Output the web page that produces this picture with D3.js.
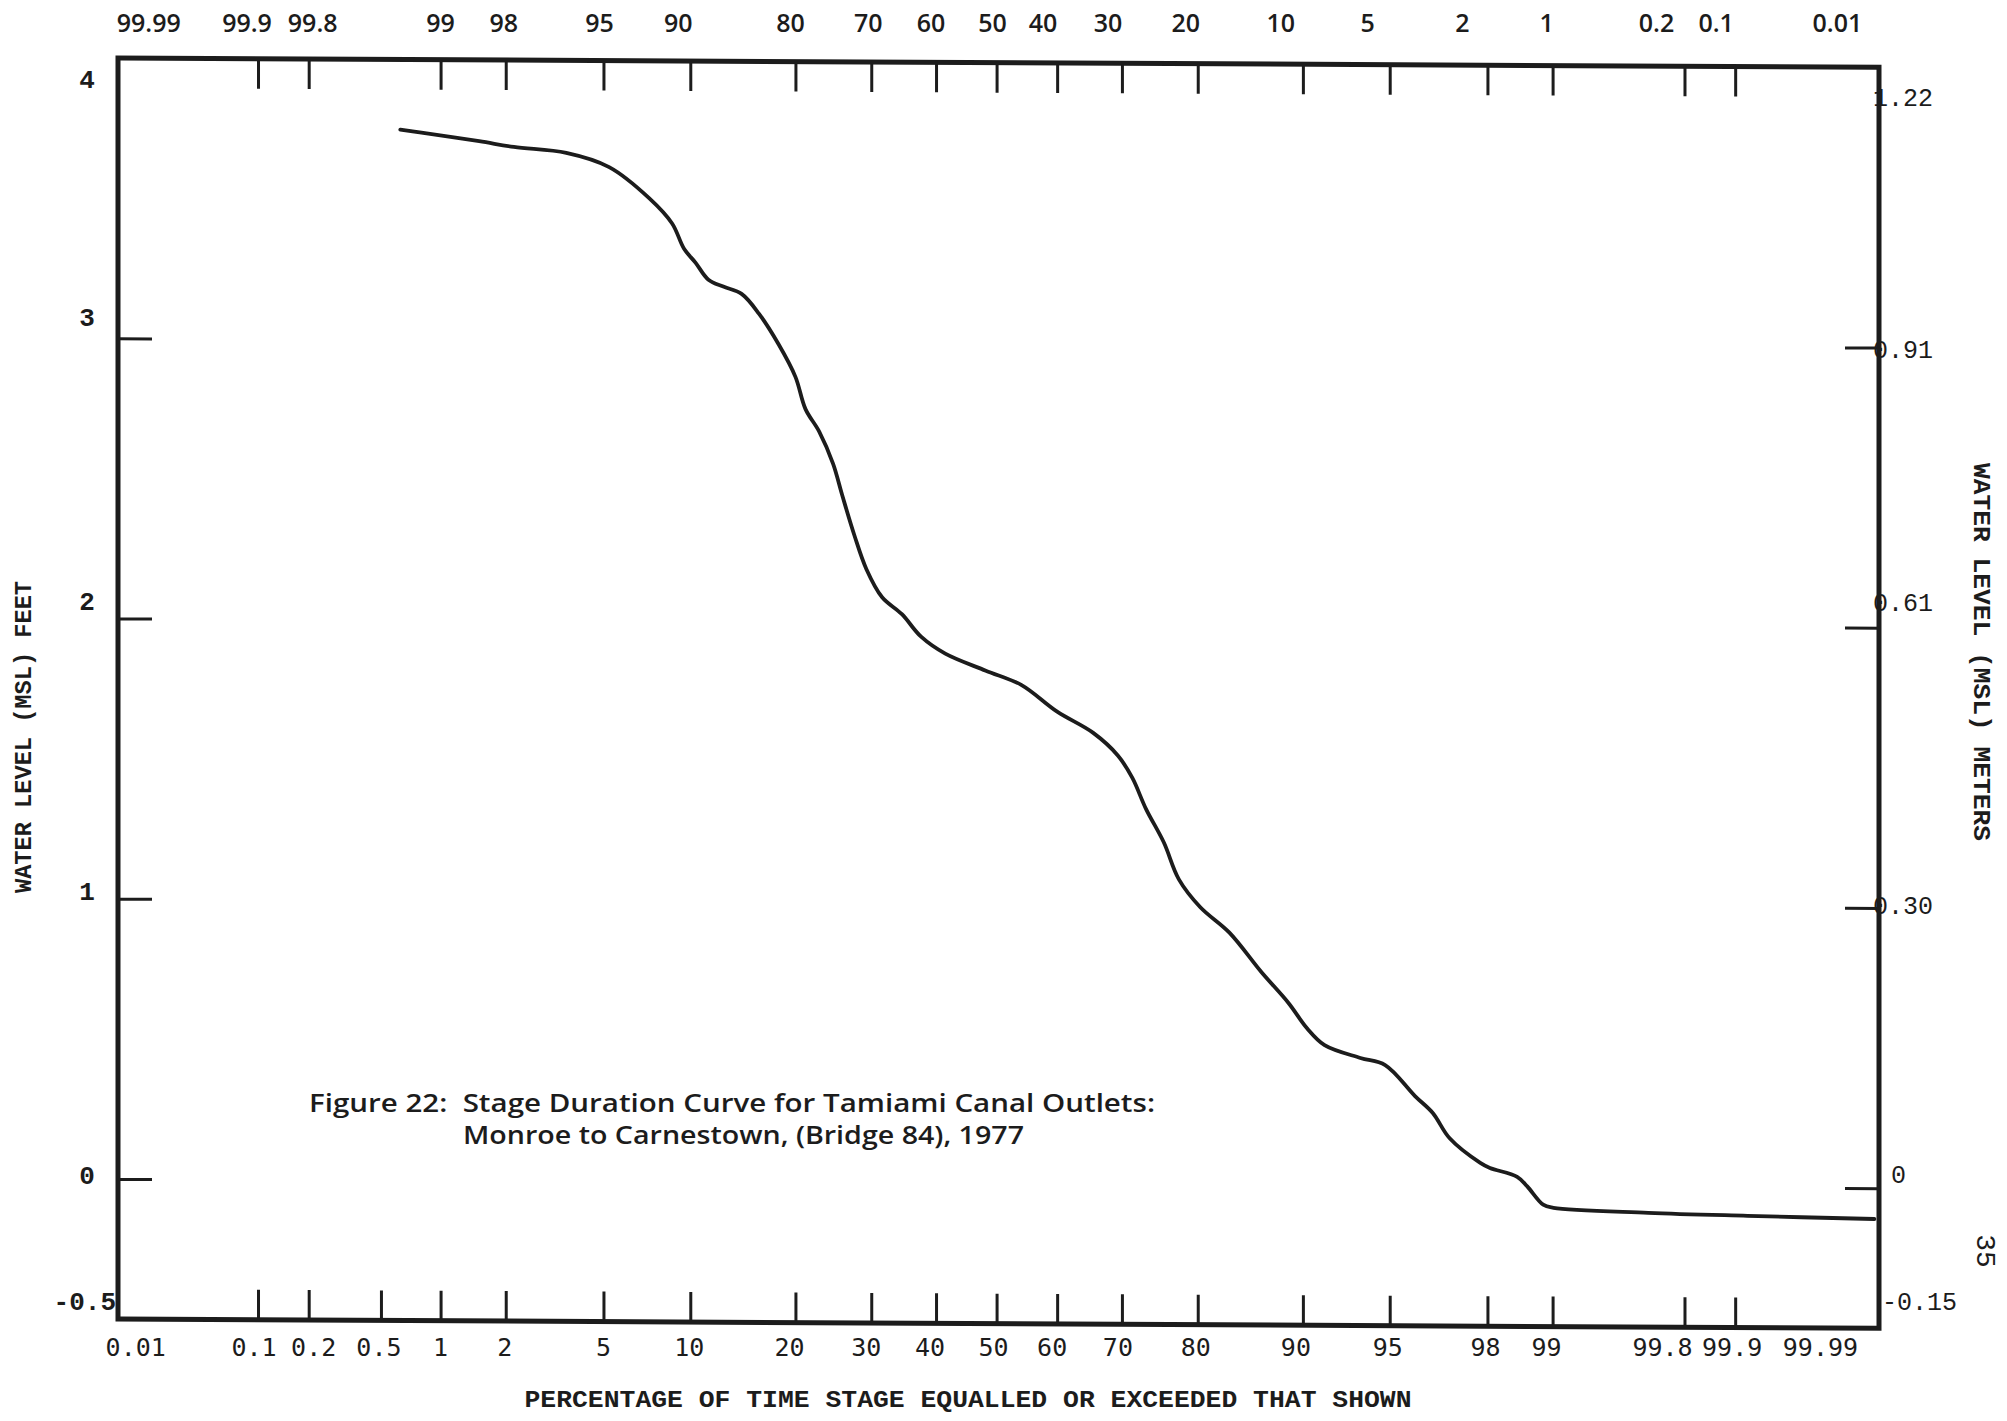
<!DOCTYPE html>
<html>
<head>
<meta charset="utf-8">
<script src="https://cdn.jsdelivr.net/npm/d3@7"></script>
<style>
  html, body { margin: 0; padding: 0; background: #ffffff; }
  svg { display: block; }
</style>
</head>
<body>
<svg id="chart" width="2007" height="1421"></svg>
<script>
// ---- Stage duration curve: percent of time stage equalled or exceeded vs. stage (ft, MSL)
const exceedancePct = [0.63, 0.79, 1.52, 2.17, 3.59, 5.25, 7.3, 8.73, 9.55, 10.4,
  11.4, 12.7, 14.3, 16.0, 18.1, 20.0, 21.2, 22.9, 24.7, 25.9,
  27.6, 29.3, 31.6, 34.6, 37.6, 41.5, 48.2, 54.1, 60.0, 65.7,
  69.4, 71.5, 73.4, 75.8, 77.7, 80.3, 83.5, 86.6, 88.9, 90.3,
  91.5, 93.6, 94.8, 96.0, 96.6, 97.1, 97.85, 98.05, 98.53, 98.68,
  98.89, 99.01, 99.68, 99.916, 99.988];
const stageFt = [3.75, 3.74, 3.71, 3.69, 3.67, 3.62, 3.51, 3.42, 3.33, 3.28,
  3.22, 3.195, 3.17, 3.10, 2.99, 2.875, 2.76, 2.68, 2.565, 2.455,
  2.31, 2.19, 2.09, 2.03, 1.95, 1.89, 1.83, 1.78, 1.685, 1.61,
  1.53, 1.45, 1.34, 1.22, 1.09, 0.99, 0.90, 0.76, 0.65, 0.56,
  0.50, 0.455, 0.43, 0.32, 0.26, 0.17, 0.083, 0.065, 0.034, 0.0,
  -0.065, -0.076, -0.092, -0.101, -0.11];

// ---- Axis ticks and labels
const bottomTickPct = [0.1, 0.2, 0.5, 1, 2, 5, 10, 20, 30, 40, 50, 60, 70, 80, 90, 95, 98, 99, 99.8, 99.9];
const bottomLabels = ["0.01", "0.1", "0.2", "0.5", "1", "2", "5", "10", "20", "30", "40", "50",
  "60", "70", "80", "90", "95", "98", "99", "99.8", "99.9", "99.99"];
// top scale reads the complement (percent of time stage is NOT reached)
const topTickLabels = [99.9, 99.8, 99, 98, 95, 90, 80, 70, 60, 50, 40, 30, 20, 10, 5, 2, 1, 0.2, 0.1];
const topLabels = ["99.99", "99.9", "99.8", "99", "98", "95", "90", "80", "70", "60", "50", "40",
  "30", "20", "10", "5", "2", "1", "0.2", "0.1", "0.01"];
const feetTicks = [0, 1, 2, 3];
const feetLabels = [4, 3, 2, 1, 0, -0.5];
const meterTicks = [0, 0.3048, 0.6096, 0.9144];
const meterLabels = ["1.22", "0.91", "0.61", "0.30", "0", "-0.15"];
const meterLabelFt = [4, 3, 2, 1, 0, -0.5];

// ---- Layout (hand-lettered label offsets, px)
const topNudge = {"99.99": 41, "99.9": -11, "99.8": 4, "99": 0, "98": -2, "95": -4, "90": -12, "80": -5,
  "70": -3, "60": -5, "50": -4, "40": -14, "30": -14, "20": -12, "10": -22, "5": -22, "2": -25,
  "1": -6, "0.2": -28, "0.1": -19, "0.01": -48};
const bottomNudge = {"0.01": 28, "0.1": -4, "0.2": 5, "0.5": -2, "1": 0, "2": -1, "5": 0, "10": -1,
  "20": -6, "30": -5, "40": -6, "50": -3, "60": -5, "70": -4, "80": -2, "90": -7, "95": -2,
  "98": -2, "99": -6, "99.8": -22, "99.9": -3, "99.99": -65};
const leftNudge = {"4": 22, "3": -20, "2": -16, "1": -7, "0": -3, "-0.5": -17};
const rightNudge = {"1.22": 40, "0.91": 12, "0.61": -15, "0.30": 7, "0": -4, "-0.15": -17};

const L = 118, R = 1879;
const ink = "#1c1c1c";
const skewDeg = Math.atan(0.0053) * 180 / Math.PI;

// inverse of the standard normal CDF (Acklam)
function probit(p) {
  const a = [-3.969683028665376e+01, 2.209460984245205e+02, -2.759285104469687e+02, 1.383577518672690e+02, -3.066479806614716e+01, 2.506628277459239e+00];
  const b = [-5.447609879822406e+01, 1.615858368580409e+02, -1.556989798598866e+02, 6.680131188771972e+01, -1.328068155288572e+01];
  const c = [-7.784894002430293e-03, -3.223964580411365e-01, -2.400758277161838e+00, -2.549671743669491e+00, 4.374664141464968e+00, 2.938163982698783e+00];
  const d = [7.784695709041462e-03, 3.224671290700398e-01, 2.445134137142996e+00, 3.754408661907416e+00];
  const pl = 0.02425, ph = 1 - pl;
  let q, r;
  if (p < pl) {
    q = Math.sqrt(-2 * Math.log(p));
    return (((((c[0]*q + c[1])*q + c[2])*q + c[3])*q + c[4])*q + c[5]) / ((((d[0]*q + d[1])*q + d[2])*q + d[3])*q + 1);
  }
  if (p > ph) {
    q = Math.sqrt(-2 * Math.log(1 - p));
    return -(((((c[0]*q + c[1])*q + c[2])*q + c[3])*q + c[4])*q + c[5]) / ((((d[0]*q + d[1])*q + d[2])*q + d[3])*q + 1);
  }
  q = p - 0.5; r = q * q;
  return (((((a[0]*r + a[1])*r + a[2])*r + a[3])*r + a[4])*r + a[5])*q / (((((b[0]*r + b[1])*r + b[2])*r + b[3])*r + b[4])*r + 1);
}

// normal-probability scale: percent -> standard score -> px
const zScale = d3.scaleLinear().domain([-3.676, 3.692]).range([L, R]);
function probabilityScale() {
  const s = p => zScale(probit(p / 100));
  s.domain = () => [0.02, 99.98];
  s.range = () => zScale.range();
  s.copy = () => probabilityScale();
  return s;
}
const x = probabilityScale();
const y = d3.scaleLinear().domain([-0.5, 4]).range([1319, 58]);
const FT_TO_M = 0.3048;
const yM = d3.scaleLinear().domain([-0.5 * FT_TO_M, 4 * FT_TO_M]).range(y.range());

const svg = d3.select("#chart");
svg.append("rect").attr("width", 2007).attr("height", 1421).attr("fill", "#ffffff");

// ---- frame, ticks and curve (drawn slightly sheared, as on the original sheet)
const plot = svg.append("g")
  .attr("transform", `translate(${L},0) skewY(${skewDeg}) translate(${-L},0)`);

function styleTicks(g) {
  g.select(".domain").remove();
  g.selectAll("text").remove();
  g.selectAll("line").attr("stroke", ink).attr("stroke-width", 3);
}

plot.append("g").attr("transform", `translate(0,${y(4)})`)
  .call(d3.axisTop(x).tickValues(topTickLabels.map(v => 100 - v)).tickSize(-30).tickSizeOuter(0))
  .call(styleTicks);
plot.append("g").attr("transform", `translate(0,${y(-0.5)})`)
  .call(d3.axisBottom(x).tickValues(bottomTickPct).tickSize(-30).tickSizeOuter(0))
  .call(styleTicks);
plot.append("g").attr("transform", `translate(${L},0)`)
  .call(d3.axisLeft(y).tickValues(feetTicks).tickSize(-34).tickSizeOuter(0))
  .call(styleTicks);
plot.append("g").attr("transform", `translate(${R},0)`)
  .call(d3.axisRight(yM).tickValues(meterTicks).tickSize(-34).tickSizeOuter(0))
  .call(styleTicks);

plot.append("path")
  .attr("d", `M${L},${y(4)}H${R}V${y(-0.5)}H${L}Z`)
  .attr("fill", "none").attr("stroke", ink).attr("stroke-width", 5)
  .attr("stroke-linejoin", "miter");

const curveData = exceedancePct.map((p, i) => ({p, ft: stageFt[i]}));
plot.append("path")
  .datum(curveData)
  .attr("fill", "none").attr("stroke", ink).attr("stroke-width", 3.8)
  .attr("stroke-linejoin", "round").attr("stroke-linecap", "round")
  .attr("d", d3.line().x(d => x(d.p)).y(d => y(d.ft)).curve(d3.curveCatmullRom.alpha(0.5)));

// ---- tick labels
const labels = svg.append("g").attr("fill", ink);

labels.append("g").selectAll("text").data(topLabels).join("text")
  .attr("x", d => x(100 - (+d)) + topNudge[d])
  .attr("y", 32)
  .attr("text-anchor", "middle")
  .attr("font-family", "'Open Sans', 'Noto Sans', sans-serif")
  .attr("font-weight", 600)
  .attr("font-size", 25)
  .text(d => d);

labels.append("g").selectAll("text").data(bottomLabels).join("text")
  .attr("x", d => x(+d) + bottomNudge[d])
  .attr("y", 1356)
  .attr("text-anchor", "middle")
  .attr("font-family", "'DejaVu Sans Mono', monospace")
  .attr("font-size", 25)
  .text(d => d);

labels.append("g").selectAll("text").data(feetLabels).join("text")
  .attr("x", d => d === -0.5 ? 116 : 87)
  .attr("y", d => y(d) + leftNudge[String(d)] + 8)
  .attr("text-anchor", d => d === -0.5 ? "end" : "middle")
  .attr("font-family", "'Liberation Mono', 'Courier New', monospace")
  .attr("font-weight", 700)
  .attr("font-size", 26)
  .text(d => String(d));

labels.append("g").selectAll("text").data(meterLabels).join("text")
  .attr("x", d => d === "0" ? 1891 : d === "-0.15" ? 1882 : 1873)
  .attr("y", (d, i) => y(meterLabelFt[i]) + rightNudge[d] + 8)
  .attr("text-anchor", "start")
  .attr("font-family", "'Liberation Mono', 'Courier New', monospace")
  .attr("font-size", 25)
  .text(d => d);

// ---- axis titles
const titleFont = "'Liberation Mono', 'Courier New', monospace";
svg.append("text")
  .attr("transform", "translate(31,737) rotate(-90)")
  .attr("text-anchor", "middle")
  .attr("font-family", titleFont).attr("font-weight", 700).attr("font-size", 24)
  .attr("textLength", 312).attr("lengthAdjust", "spacingAndGlyphs")
  .attr("fill", ink)
  .text("WATER LEVEL (MSL) FEET");

svg.append("text")
  .attr("transform", "translate(1974,652) rotate(90)")
  .attr("text-anchor", "middle")
  .attr("font-family", titleFont).attr("font-weight", 700).attr("font-size", 24)
  .attr("textLength", 378).attr("lengthAdjust", "spacingAndGlyphs")
  .attr("fill", ink)
  .text("WATER LEVEL (MSL) METERS");

svg.append("text")
  .attr("x", 968).attr("y", 1407)
  .attr("text-anchor", "middle")
  .attr("font-family", titleFont).attr("font-weight", 700).attr("font-size", 24)
  .attr("textLength", 887).attr("lengthAdjust", "spacingAndGlyphs")
  .attr("fill", ink)
  .text("PERCENTAGE OF TIME STAGE EQUALLED OR EXCEEDED THAT SHOWN");

// ---- figure caption
const caption = svg.append("g").attr("fill", ink)
  .attr("font-family", "'Open Sans', 'Noto Sans', sans-serif")
  .attr("font-weight", 600).attr("font-size", 26);
caption.append("text").attr("x", 309).attr("y", 1112)
  .attr("textLength", 846).attr("lengthAdjust", "spacingAndGlyphs")
  .attr("xml:space", "preserve")
  .text("Figure 22:  Stage Duration Curve for Tamiami Canal Outlets:");
caption.append("text").attr("x", 463).attr("y", 1144)
  .attr("textLength", 561).attr("lengthAdjust", "spacingAndGlyphs")
  .text("Monroe to Carnestown, (Bridge 84), 1977");

// ---- page number
svg.append("text")
  .attr("transform", "translate(1977,1251) rotate(90)")
  .attr("text-anchor", "middle")
  .attr("font-family", "'Liberation Mono', monospace").attr("font-size", 28)
  .attr("fill", ink)
  .text("35");
</script>
</body>
</html>
